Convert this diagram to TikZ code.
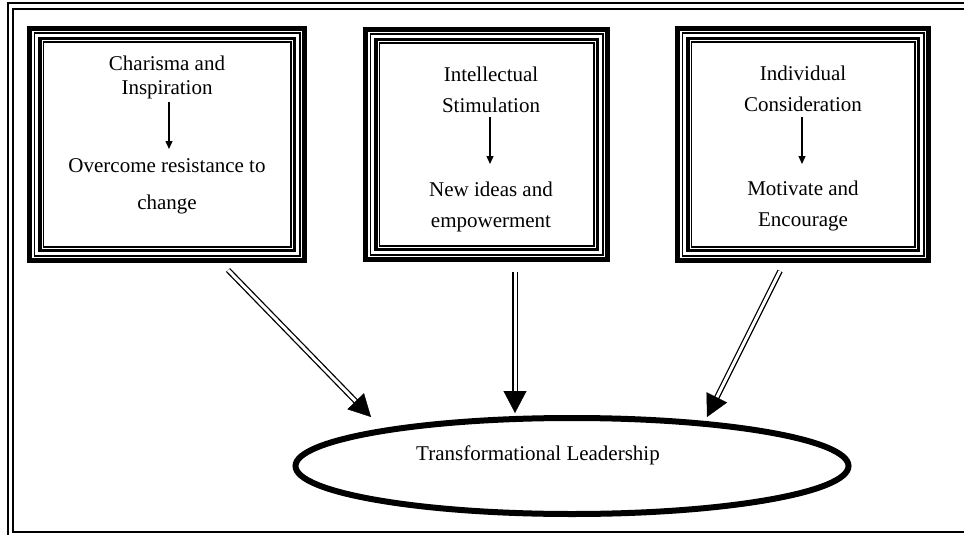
\documentclass[tikz,border=0pt]{standalone}
\usepackage{fontspec}
\setmainfont{Liberation Serif}
\usetikzlibrary{arrows.meta,calc,shapes.geometric}
\begin{document}
\begin{tikzpicture}[x=1pt,y=-1pt,
  boxn/.style={inner sep=0pt, outer sep=0pt},
  txtA/.style={font=\fontsize{21}{24}\selectfont, align=center, inner sep=0pt},
  txtB/.style={font=\fontsize{21}{31}\selectfont, align=center, inner sep=0pt},
  txtC/.style={font=\fontsize{21}{37}\selectfont, align=center, inner sep=0pt},
  smallarrow/.style={line width=1.3pt, -{Triangle[length=8pt,width=7pt]}},
  shaft/.style={line width=1.3pt, double, double distance=3pt, shorten >=21pt},
  headtip/.style={line width=0.4pt, -{Triangle[length=22pt,width=23pt]}},
  frameline/.style={line width=2pt}
]
\useasboundingbox (0,0) rectangle (964,535);
\clip (0,0) rectangle (964,535);
\fill[white] (0,0) rectangle (964,535);

% outer double frame (right side lies outside the picture)
\draw[frameline] (7.5,3.5) rectangle (1000,560);
\draw[frameline] (13,9) rectangle (1000,531.5);

% three boxes
\node[boxn, minimum width=280, minimum height=237] (B1) at (167,144.5) {};
\node[boxn, minimum width=247, minimum height=235] (B2) at (486.5,144.5) {};
\node[boxn, minimum width=256, minimum height=237] (B3) at (803,144.5) {};

\foreach \n in {B1,B2,B3}{
  \foreach \o/\w in {2.5/5, 7.25/1.5, 12.75/3.5, 16.25/1.5}{
    \draw[line width=\w pt] ($(\n.north west)+(\o pt,-\o pt)$) rectangle ($(\n.south east)+(-\o pt,\o pt)$);
  }
}

% box texts
\node[txtA] (T1) at (167,77) {Charisma and\\Inspiration};
\node[txtC] (U1) at (167,186.5) {Overcome resistance to\\change};
\node[txtB] (T2) at (491,89.5) {Intellectual\\Stimulation};
\node[txtB] (U2) at (491,207) {New ideas and\\empowerment};
\node[txtB] (T3) at (803,88.5) {Individual\\Consideration};
\node[txtB] (U3) at (803,206) {Motivate and\\Encourage};

\coordinate (a1s) at (169,102); \coordinate (a1e) at (169,149);
\coordinate (a2s) at (490,117); \coordinate (a2e) at (490,164);
\coordinate (a3s) at (802,117); \coordinate (a3e) at (802,164);
\draw[smallarrow] (a1s) -- (a1e);
\draw[smallarrow] (a2s) -- (a2e);
\draw[smallarrow] (a3s) -- (a3e);

% ellipse
\node[draw, ellipse, line width=6pt, minimum width=553, minimum height=96, inner sep=0pt] (TL) at (572,466) {};
\node[font=\fontsize{21}{24}\selectfont, inner sep=0pt] (TLt) at (538,455) {Transformational Leadership};

% big double arrows
\coordinate (s1) at (228,270); \coordinate (e1) at (371,417);
\coordinate (s2) at (515,272); \coordinate (e2) at (515,413);
\coordinate (s3) at (780,271); \coordinate (e3) at (707,417);
\foreach \s/\e in {s1/e1, s2/e2, s3/e3}{
  \draw[shaft] (\s) -- (\e);
  \draw[headtip] ($(\e)!22pt!(\s)$) -- (\e);
}
\end{tikzpicture}
\end{document}
